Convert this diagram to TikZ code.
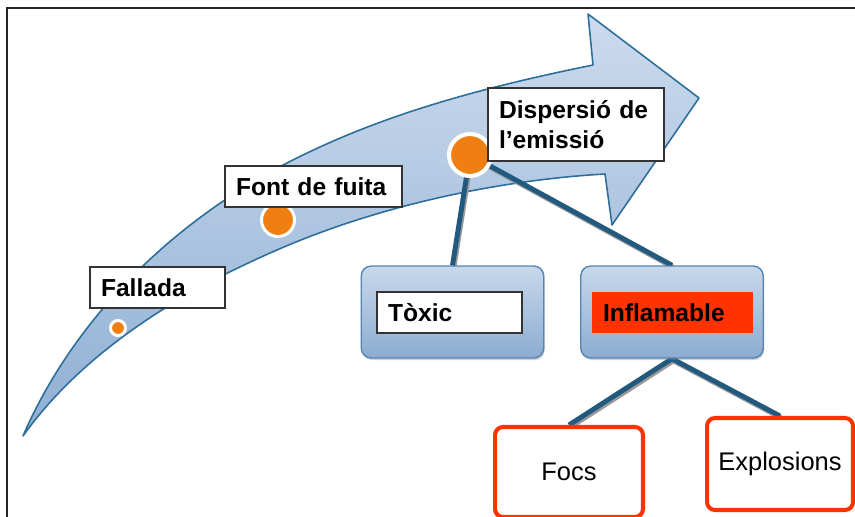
\documentclass[tikz,border=0pt]{standalone}
\usepackage{fontspec}
\setmainfont{Liberation Sans}
\usetikzlibrary{shadows}
\usetikzlibrary{backgrounds}

\definecolor{arrowedge}{HTML}{2E6E9A}
\definecolor{arrowtop}{HTML}{CCDBEE}
\definecolor{arrowbot}{HTML}{8FAFD3}
\definecolor{dotorange}{HTML}{EF7F12}
\definecolor{linkblue}{HTML}{215A7E}
\definecolor{boxtop}{HTML}{C8D8EC}
\definecolor{boxbot}{HTML}{8CACD0}
\definecolor{boxedge}{HTML}{5585B0}
\definecolor{flame}{HTML}{FF3300}

\begin{document}
\begin{tikzpicture}[x=0.02cm,y=-0.02cm,
        label/.style={draw=black!80,line width=1pt,fill=white,font=\bfseries\fontsize{14}{17.5}\selectfont,
            align=left,inner xsep=0.22cm,minimum height=0.82cm},
        dot/.style={circle,fill=dotorange,draw=white,inner sep=0pt},
        group/.style={rounded corners=0.2cm,draw=boxedge,line width=0.8pt,top color=boxtop,bottom color=boxbot,
            minimum width=3.65cm,minimum height=1.84cm,
            drop shadow={shadow xshift=0.6pt,shadow yshift=-1.2pt,opacity=0.35}},
        outcome/.style={draw=flame,line width=2.3pt,rounded corners=0.16cm,fill=white,font=\fontsize{14.5}{17}\selectfont},
        link/.style={draw=linkblue,line width=2.8pt,
            preaction={draw=black!40,line width=2.8pt,transform canvas={shift={(0.8pt,-1.2pt)}}}}]
        \useasboundingbox (0,0) rectangle (855,517);

        \draw[black!85,line width=1.2pt] (7,530) -- (7,8) -- (870,8);

        \node[dot,minimum size=0.3cm,line width=1.7pt] (fail) at (118,328) {};
        \node[dot,minimum size=0.66cm,line width=1.7pt] (leak) at (278,220) {};
        \node[dot,minimum size=0.84cm,line width=2.3pt] (spread) at (470,155) {};

        \node[label,minimum width=2.7cm,text width=2.26cm] (failtxt) at (157.5,287.5) {Fallada};
        \node[label,minimum width=3.54cm,text width=3.1cm] (leaktxt) at (313.5,186.5) {Font de fuita};
        \node[label,minimum width=3.52cm,text width=3.08cm,minimum height=1.46cm] (spreadtxt) at (576,124.5)
            {Dispersió de\\l’emissió};

        \node[group] (toxicgrp) at (452.5,312) {};
        \node[label,minimum width=2.9cm,text width=2.46cm] (toxic) at (449.5,312.5) {Tòxic};
        \node[group] (inflamgrp) at (672,312) {};
        \node[label,draw=none,fill=flame,minimum width=3.22cm,text width=2.78cm] (inflam) at (672.5,312.5) {Inflamable};

        \node[outcome,minimum width=2.96cm,minimum height=1.8cm] (focs) at (569,472) {Focs};
        \node[outcome,minimum width=2.92cm,minimum height=1.84cm] (explos) at (780,464) {Explosions};

        \begin{scope}[on background layer]
            \draw[top color=arrowtop,bottom color=arrowbot,draw=arrowedge,line width=0.9pt,line join=round]
                (23,436) .. controls (60,350) and (140,240) .. (287,163)
                .. controls (380,115) and (480,88) .. (593,65)
                -- (588,14) -- (699,98) -- (612,225) -- (605,174)
                .. controls (500,180) and (380,205) .. (277,250)
                .. controls (150,305) and (70,370) .. (23,436) -- cycle;
            \draw[link] (spread.center) -- (toxicgrp.north);
            \draw[link] (spread.center) -- (inflamgrp.north);
            \draw[link] (inflamgrp.south) -- (focs.north);
            \draw[link] (inflamgrp.south) -- (explos.north);
        \end{scope}
    \end{tikzpicture}
\end{document}
